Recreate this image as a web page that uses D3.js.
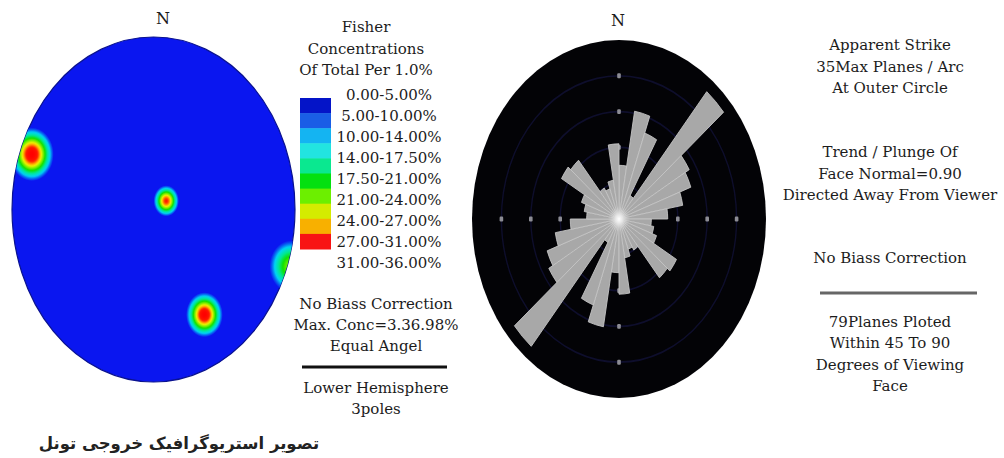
<!DOCTYPE html>
<html><head><meta charset="utf-8">
<script src="https://cdn.jsdelivr.net/npm/d3@7"></script>
<style>html,body{margin:0;padding:0;background:#fff;} svg{display:block}</style>
</head><body><svg id="c" width="1004" height="458"></svg>
<script>
// ---------- data ----------
const legendTitle = ["Fisher", "Concentrations", "Of Total Per 1.0%"];
const legendLabels = ["0.00-5.00%", "5.00-10.00%", "10.00-14.00%", "14.00-17.50%", "17.50-21.00%",
                      "21.00-24.00%", "24.00-27.00%", "27.00-31.00%", "31.00-36.00%"];
const legendColors = ["#0414c8", "#1a5ee6", "#14b4f2", "#22e4e0", "#0ae890", "#04e010",
                      "#6cef00", "#d4ec00", "#f8b000", "#f81414"];
const leftNotesA = ["No Biass Correction", "Max. Conc=3.36.98%", "Equal Angel"];
const leftNotesB = ["Lower Hemisphere", "3poles"];
const rightNotesA = ["Apparent Strike", "35Max Planes / Arc", "At Outer Circle"];
const rightNotesB = ["Trend / Plunge Of", "Face Normal=0.90", "Directed Away From Viewer"];
const rightNotesC = ["No Biass Correction"];
const rightNotesD = ["79Planes Ploted", "Within 45 To 90", "Degrees of Viewing", "Face"];
const caption = "تصویر استریوگرافیک خروجی تونل";

// pole concentrations (normalised stereonet coordinates, east / north)
const poleX = [-0.86, 0.09, 0.36, 0.97];
const poleY = [0.32, 0.05, -0.61, -0.33];
const poleSpread = [0.155, 0.09, 0.13, 0.15];
const polePeak = [36, 31, 36, 20];

// strike rose (10 degree bins, bidirectional)
const binStart = [0, 10, 20, 30, 40, 50, 60, 70, 80, 90, 100, 110, 120, 130, 140, 150, 160, 170];
const binCount = [10.5, 21.4, 17.9, 5.3, 32.5, 19.3, 18.2, 15.4, 11.6, 7.7, 8.4, 9.5, 15.8, 15.0, 7.0, 6.3, 7.7, 14.7];
const maxPlanes = 35;
const ringPlanes = [7, 14, 21, 28];

// ---------- drawing ----------
const svg = d3.select("#c");
const defs = svg.append("defs");
const serif = "'DejaVu Serif', serif";
const txtCol = "#1c1c1c";

function lines(arr, x, y0, step, size) {
  svg.append("g").selectAll("text").data(arr).join("text")
    .attr("x", x).attr("y", (d, i) => y0 + i * step)
    .attr("text-anchor", "middle").attr("dominant-baseline", "central")
    .attr("font-family", serif).attr("font-size", size).attr("fill", txtCol)
    .text(d => d);
}

// ----- left stereonet -----
const L = {cx: 153.5, cy: 209.5, rx: 141.5, ry: 172.5};
const xS = d3.scaleLinear([-1, 1], [L.cx - L.rx, L.cx + L.rx]);
const yS = d3.scaleLinear([-1, 1], [L.cy + L.ry, L.cy - L.ry]);
const blue = "#0a16f0";
const concColor = d3.scaleLinear()
  .domain([0, 4, 8, 12, 16, 20, 24, 27, 31, 36])
  .range([blue, blue, "#00d4f4", "#00e890", "#10e000", "#80f000", "#f0f000", "#ffa000", "#ff1800", "#ff0000"]);

defs.append("clipPath").attr("id", "stereoClip")
  .append("ellipse").attr("cx", L.cx).attr("cy", L.cy).attr("rx", L.rx).attr("ry", L.ry);

svg.append("ellipse").attr("cx", L.cx).attr("cy", L.cy).attr("rx", L.rx).attr("ry", L.ry)
  .attr("fill", blue).attr("stroke", "#0a1290").attr("stroke-width", 1.2);

const poles = poleX.map((x, i) => ({x, y: poleY[i], s: poleSpread[i], p: polePeak[i]}));
poles.forEach((d, i) => {
  const g = defs.append("radialGradient").attr("id", "pg" + i);
  const k = Math.log(d.p / 4);
  d3.range(0, 1.0001, 0.04).forEach(t => {
    const v = d.p * Math.exp(-k * t * t);
    g.append("stop").attr("offset", t).attr("stop-color", concColor(v));
  });
});
svg.append("g").attr("clip-path", "url(#stereoClip)")
  .selectAll("ellipse").data(poles).join("ellipse")
  .attr("cx", d => xS(d.x)).attr("cy", d => yS(d.y))
  .attr("rx", d => xS(d.s) - xS(0)).attr("ry", d => yS(0) - yS(d.s))
  .attr("fill", (d, i) => `url(#pg${i})`);

svg.append("text").attr("x", 163).attr("y", 18).attr("text-anchor", "middle")
  .attr("dominant-baseline", "central").attr("font-family", serif).attr("font-size", 16)
  .attr("fill", txtCol).text("N");

// legend
lines(legendTitle, 366, 27, 21.5, 15);
const lgY = d3.scaleBand().domain(d3.range(legendColors.length)).range([98, 249]);
svg.append("g").selectAll("rect").data(legendColors).join("rect")
  .attr("x", 300).attr("width", 31).attr("y", (d, i) => lgY(i)).attr("height", lgY.bandwidth() + 0.5)
  .attr("fill", d => d);
lines(legendLabels, 389, 95, 21, 15);
lines(leftNotesA, 376, 304, 21, 15);
svg.append("line").attr("x1", 302).attr("x2", 447).attr("y1", 367).attr("y2", 367)
  .attr("stroke", "#111").attr("stroke-width", 3);
lines(leftNotesB, 376, 388, 21, 15);

// ----- right rose -----
const R = {cx: 619, cy: 219, rx: 147, ry: 179};
svg.append("ellipse").attr("cx", R.cx).attr("cy", R.cy).attr("rx", R.rx).attr("ry", R.ry)
  .attr("fill", "#030306");
const rg = svg.append("g").attr("transform", `translate(${R.cx},${R.cy}) scale(1,${R.ry / R.rx})`);
const rS = d3.scaleLinear([0, maxPlanes], [0, R.rx]);
rg.selectAll("circle.ring").data(ringPlanes).join("circle").attr("class", "ring")
  .attr("r", d => rS(d)).attr("fill", "none").attr("stroke", "#0e0e2c").attr("stroke-width", 1.4);
const dotData = [];
ringPlanes.forEach(p => [0, 90, 180, 270].forEach(a => dotData.push({p, a})));
rg.selectAll("rect.dot").data(dotData).join("rect").attr("class", "dot")
  .attr("x", d => rS(d.p) * Math.sin(d.a * Math.PI / 180) - 1.8)
  .attr("y", d => -rS(d.p) * Math.cos(d.a * Math.PI / 180) - 2)
  .attr("width", 3.6).attr("height", 4).attr("rx", 1).attr("fill", "#8c8c94");

const petals = [];
binStart.forEach((b, i) => {
  petals.push({a: b, v: binCount[i]});
  petals.push({a: b + 180, v: binCount[i]});
});
const arc = d3.arc().innerRadius(0);
defs.append("filter").attr("id", "soft").append("feGaussianBlur").attr("stdDeviation", 0.5);
rg.append("g").attr("filter", "url(#soft)").selectAll("path").data(petals).join("path")
  .attr("d", d => arc({outerRadius: rS(d.v), startAngle: d.a * Math.PI / 180, endAngle: (d.a + 10) * Math.PI / 180}))
  .attr("fill", "#a8a8a8").attr("stroke", "#c6c6c6").attr("stroke-width", 0.8);
const glow = defs.append("radialGradient").attr("id", "glow");
glow.append("stop").attr("offset", 0).attr("stop-color", "#ffffff").attr("stop-opacity", 1);
glow.append("stop").attr("offset", 0.3).attr("stop-color", "#f4f4f4").attr("stop-opacity", 0.75);
glow.append("stop").attr("offset", 1).attr("stop-color", "#d0d0d0").attr("stop-opacity", 0);
rg.append("circle").attr("r", 11).attr("fill", "url(#glow)");

svg.append("text").attr("x", 618).attr("y", 20).attr("text-anchor", "middle")
  .attr("dominant-baseline", "central").attr("font-family", serif).attr("font-size", 16)
  .attr("fill", txtCol).text("N");

lines(rightNotesA, 890, 45, 21.5, 15);
lines(rightNotesB, 890, 152, 21.5, 15);
lines(rightNotesC, 890, 258, 21, 15);
svg.append("line").attr("x1", 820).attr("x2", 977).attr("y1", 293).attr("y2", 293)
  .attr("stroke", "#666").attr("stroke-width", 3);
lines(rightNotesD, 890, 322, 21.3, 15);

// caption
svg.append("text").attr("x", 179).attr("y", 443).attr("text-anchor", "middle")
  .attr("dominant-baseline", "central").attr("direction", "rtl")
  .attr("font-family", "'DejaVu Sans', 'Noto Sans', sans-serif").attr("font-weight", "bold")
  .attr("font-size", 16.5).attr("fill", "#222").text(caption);
</script></body></html>
